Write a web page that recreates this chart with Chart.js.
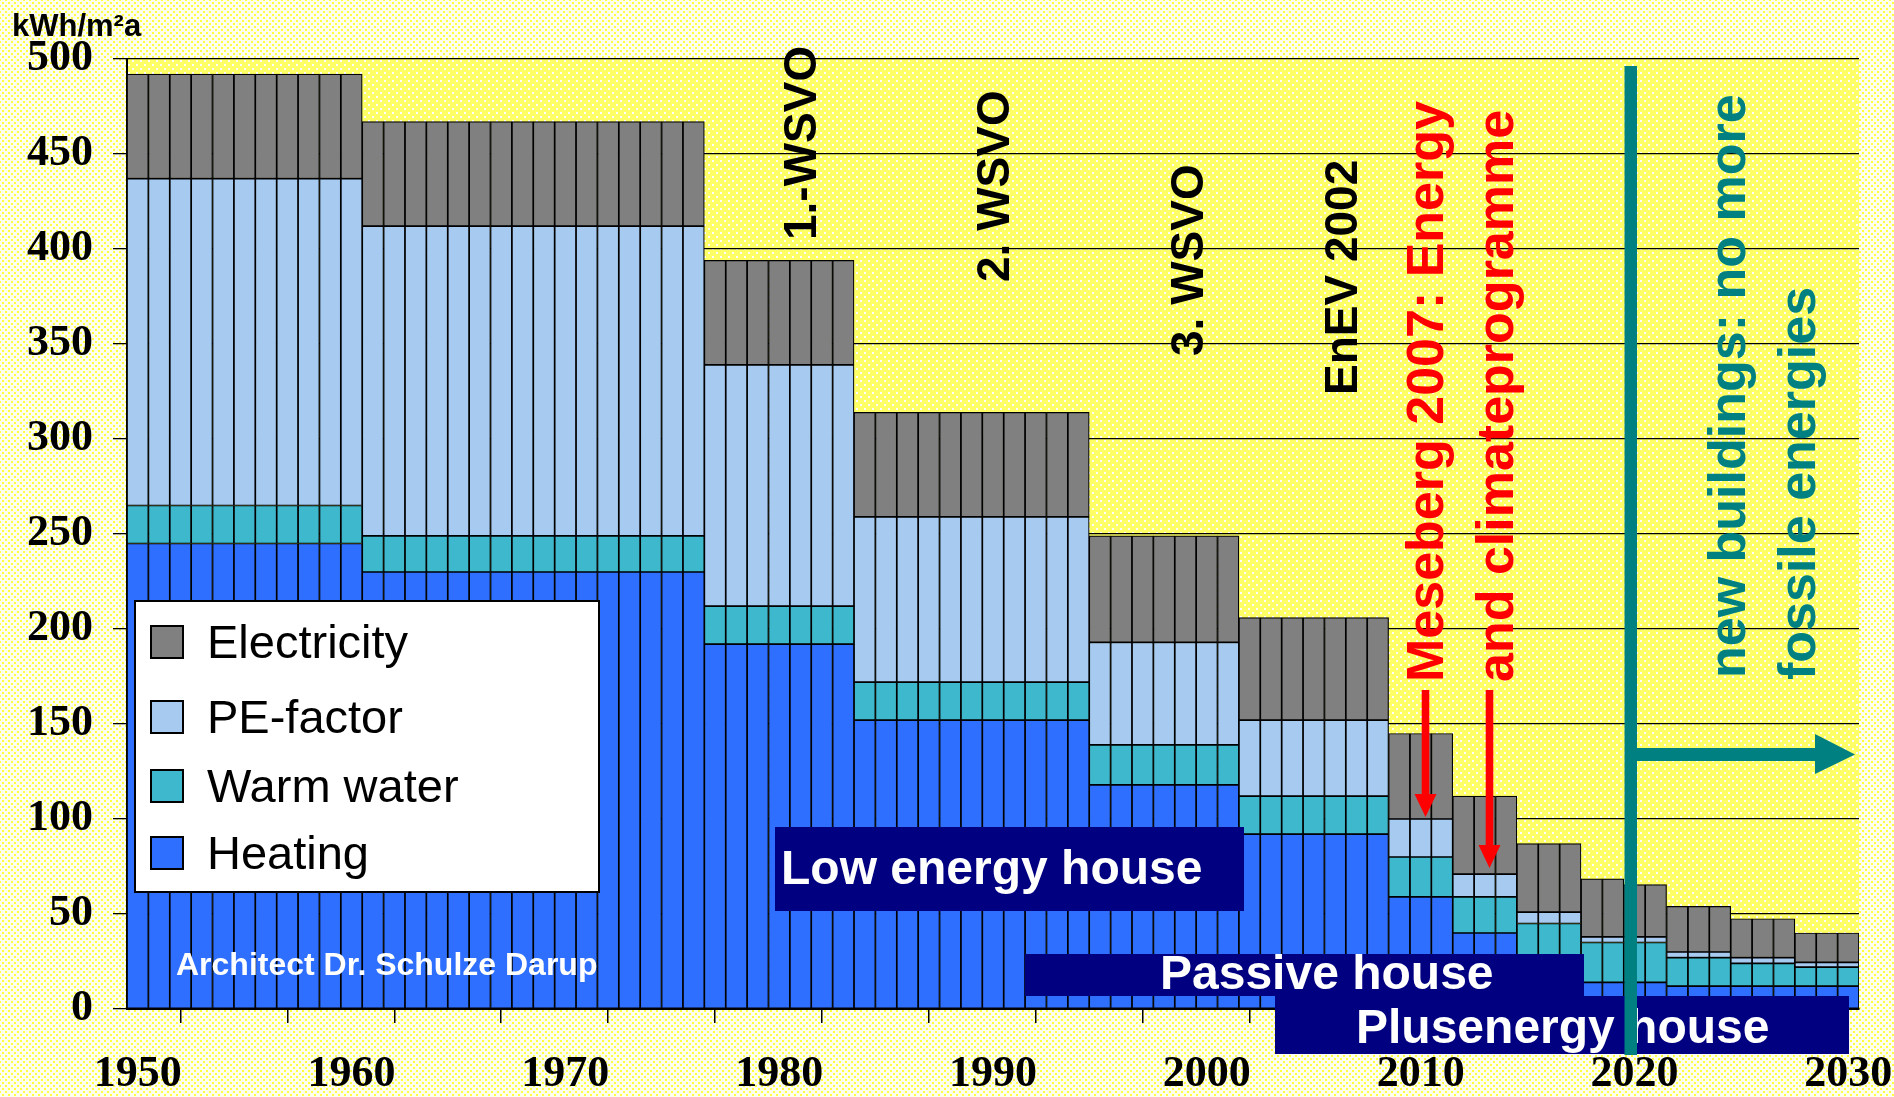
<!DOCTYPE html>
<html><head><meta charset="utf-8">
<script src="https://cdn.jsdelivr.net/npm/chart.js@4.4.1/dist/chart.umd.min.js"></script>
<style>
html,body{margin:0;padding:0;width:1894px;height:1097px;overflow:hidden;}
body{background-color:#FFFFF0;
 background-image:radial-gradient(circle,#FFFF40 0.8px,transparent 1.3px),radial-gradient(circle,#FFFF40 0.8px,transparent 1.3px);
 background-size:6px 6px;background-position:0 0,3px 3px;}
#wrap{position:absolute;left:0;top:0;width:1894px;height:1097px;}
canvas{display:block;}
</style></head><body>
<div id="wrap"><canvas id="c" width="1894" height="1097"></canvas></div>
<script>
// ---- data ----
const periodFirstYear = [1950,1961,1977,1984,1995,2002,2009,2012,2015,2018,2020,2022,2025,2028];
const periodLastYear  = [1960,1976,1983,1994,2001,2008,2011,2014,2017,2019,2021,2024,2027,2030];
const heating     = [245,230,192,152,118, 92, 59, 40, 15, 14, 14, 12, 12, 12];
const warmWater   = [ 20, 19, 20, 20, 21, 20, 21, 19, 30, 21, 21, 15, 12, 10];
const peFactor    = [172,163,127, 87, 54, 40, 20, 12,  6,  3,  3,  3,  3, 2.5];
const electricity = [ 55, 55, 55, 55, 56, 54, 45, 41, 36, 30.5, 27.5, 24, 20.5, 15.5];
const seriesNames = ['Heating','Warm water','PE-factor','Electricity'];
const seriesColors = ['#2E6FFF','#3DB8CC','#A6CAF0','#808080'];
const xTickYears = [1950,1955,1960,1965,1970,1975,1980,1985,1990,1995,2000,2005,2010,2015,2020,2025,2030];
const xLabelYears = [1950,1960,1970,1980,1990,2000,2010,2020,2030];
const yTickValues = [0,50,100,150,200,250,300,350,400,450,500];
const unitLabel = 'kWh/m²a';

// one bar per year, each year takes the value of its period
function yearly(values){
  const pts=[];
  for(let p=0;p<values.length;p++){
    for(let yr=periodFirstYear[p]; yr<=periodLastYear[p]; yr++){
      pts.push({x: yr+0.5, y: values[p]});
    }
  }
  return pts;
}
const seriesValues=[heating,warmWater,peFactor,electricity];

function makePattern(ctx){
  const t=document.createElement('canvas'); t.width=8; t.height=8;
  const c=t.getContext('2d');
  c.fillStyle='#FFFF66'; c.fillRect(0,0,8,8);
  c.fillStyle='#FFFFFF'; c.fillRect(0,0,2,2); c.fillRect(4,4,2,2);
  return ctx.createPattern(t,'repeat');
}

const bgPlugin={
  id:'bg',
  beforeDraw(chart){
    const {ctx,chartArea:a}=chart;
    ctx.save();
    ctx.fillStyle=makePattern(ctx);
    ctx.fillRect(a.left,a.top,a.right-a.left,a.bottom-a.top);
    ctx.restore();
  }
};

const SANS='"Liberation Sans", Arial, sans-serif';
const annotPlugin={
  id:'annot',
  afterDraw(chart){
    const ctx=chart.ctx;
    ctx.save();
    // unit label
    ctx.fillStyle='#000'; ctx.textAlign='left'; ctx.textBaseline='alphabetic';
    ctx.font='bold 31px '+SANS;
    ctx.fillText(unitLabel,12,36);

    // author
    ctx.fillStyle='#fff'; ctx.font='bold 32px '+SANS;
    ctx.fillText('Architect Dr. Schulze Darup',176,975);

    // legend box
    ctx.fillStyle='#fff'; ctx.fillRect(135,601,464,291);
    ctx.strokeStyle='#000'; ctx.lineWidth=2; ctx.strokeRect(135,601,464,291);
    const baselines=[658,733,802,869];
    const ds=chart.data.datasets.slice().reverse();
    ds.forEach((d,i)=>{
      const b=baselines[i];
      ctx.fillStyle=d.backgroundColor; ctx.fillRect(151,b-32,32,32);
      ctx.strokeStyle='#000'; ctx.lineWidth=2; ctx.strokeRect(151,b-32,32,32);
      ctx.fillStyle='#000'; ctx.font='47px '+SANS;
      ctx.fillText(d.label,207,b);
    });

    // navy boxes
    function box(x0,y0,x1,y1,txt,tx,ty){
      ctx.fillStyle='#000080'; ctx.fillRect(x0,y0,x1-x0,y1-y0);
      ctx.fillStyle='#fff'; ctx.font='bold 48px '+SANS;
      ctx.fillText(txt,tx,ty);
    }
    box(775,827,1244,911,'Low energy house',781,884);
    box(1025,954,1584,996,'Passive house',1160,989);
    box(1275,996,1849,1054,'Plusenergy house',1356,1043);

    // vertical texts
    function vtext(str,xBase,yStart,color,size){
      ctx.save(); ctx.translate(xBase,yStart); ctx.rotate(-Math.PI/2);
      ctx.font='bold '+size+'px '+SANS; ctx.fillStyle=color;
      ctx.textAlign='left'; ctx.textBaseline='alphabetic';
      ctx.fillText(str,0,0); ctx.restore();
    }
    vtext('1.-WSVO',816,240,'#000',46);
    vtext('2. WSVO',1009,282,'#000',46);
    vtext('3. WSVO',1203,356,'#000',46);
    vtext('EnEV 2002',1357,395,'#000',46);
    vtext('Meseberg 2007: Energy',1443,682,'#FF0000',52);
    vtext('and climateprogramme',1513,682,'#FF0000',52);
    vtext('new buildings: no more',1745,678,'#008080',52);
    vtext('fossile energies',1815,680,'#008080',52);

    // red arrows
    function redArrow(x,y0,tip){
      ctx.fillStyle='#FF0000';
      ctx.fillRect(x-3.8,y0,7.6,(tip-23)-y0);
      ctx.beginPath(); ctx.moveTo(x-11,tip-23); ctx.lineTo(x+11,tip-23); ctx.lineTo(x,tip); ctx.closePath(); ctx.fill();
    }
    redArrow(1425.5,690,817);
    redArrow(1489.5,690,868);

    // teal line + arrow
    ctx.fillStyle='#008080';
    ctx.fillRect(1624.5,66,12.5,1055-66);
    ctx.fillRect(1636,748,1816-1636,13);
    ctx.beginPath(); ctx.moveTo(1815,734); ctx.lineTo(1815,774); ctx.lineTo(1855,754.5); ctx.closePath(); ctx.fill();
    ctx.restore();
  }
};

const tickFont={family:'"Liberation Serif", "Times New Roman", serif',weight:'bold',size:44};

new Chart(document.getElementById('c'),{
  type:'bar',
  data:{datasets:seriesNames.map((n,i)=>({label:n,data:yearly(seriesValues[i]),backgroundColor:seriesColors[i]}))},
  options:{
    responsive:false, animation:false, devicePixelRatio:1,
    layout:{padding:{top:59,right:35,left:0,bottom:0}},
    datasets:{bar:{barPercentage:1,categoryPercentage:1,borderColor:'#000',borderWidth:1.2,borderSkipped:false}},
    plugins:{legend:{display:false},tooltip:{enabled:false},title:{display:false}},
    scales:{
      x:{type:'linear',stacked:true,min:1950,max:2031,offset:false,
        afterFit(s){s.height=88; s.paddingLeft=0; s.paddingRight=0;},
        afterBuildTicks(s){s.ticks=xTickYears.map(v=>({value:v}));},
        grid:{display:true,drawOnChartArea:false,drawTicks:true,tickLength:14,color:'#000',lineWidth:1.5},
        border:{display:true,color:'#000',width:2},
        ticks:{autoSkip:false,maxRotation:0,minRotation:0,labelOffset:10.7,padding:25,color:'#000',font:tickFont,
          callback:(v)=> xLabelYears.includes(v)? String(v):''}
      },
      y:{stacked:true,min:0,max:500,
        afterFit(s){s.width=127; s.paddingTop=0; s.paddingBottom=0;},
        afterBuildTicks(s){s.ticks=yTickValues.map(v=>({value:v}));},
        grid:{color:'#000',lineWidth:1.3,tickLength:14},
        border:{display:true,color:'#000',width:2},
        ticks:{padding:20,color:'#000',font:tickFont}
      }
    }
  },
  plugins:[bgPlugin,annotPlugin]
});
</script>
</body></html>
